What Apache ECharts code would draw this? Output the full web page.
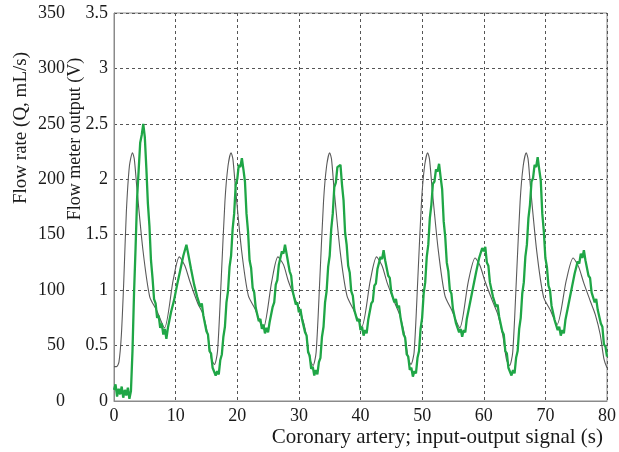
<!DOCTYPE html>
<html><head><meta charset="utf-8">
<script src="https://cdn.jsdelivr.net/npm/echarts@6/dist/echarts.min.js"></script>
<style>html,body{margin:0;padding:0;background:#fff}#c{width:619px;height:452px}</style>
</head><body><div id="c"></div>
<script>
// X axis ticks (s)
var xTicks = [0,10,20,30,40,50,60,70,80];
// Flow rate axis ticks (mL/s) and output axis ticks (V)
var flowTicks = [0,50,100,150,200,250,300,350];
var voltTicks = [0,0.5,1,1.5,2,2.5,3,3.5];
var xTitle = 'Coronary artery; input-output signal (s)';
var flowTitle = 'Flow rate (Q, mL/s)';
var voltTitle = 'Flow meter output (V)';

// Gray: input flow rate, [time s, Q mL/s]
var flowT = [0,0.4,0.8,1.2,1.6,2.0,2.5,3.0,
 3.3,3.7,4.7,5.8,6.9,8.2,9.6,10.6,11.5,12.3,13.6,14.4,15.2,15.8,16.3,16.8,17.4,18.0,18.5,19.0,
 19.3,19.7,20.7,21.8,22.9,24.2,25.6,26.6,27.5,28.3,29.6,30.4,31.2,31.8,32.3,32.8,33.4,34.0,34.5,35.0,
 35.3,35.7,36.7,37.8,38.9,40.2,41.6,42.6,43.5,44.3,45.6,46.4,47.2,47.8,48.2,48.7,49.3,49.9,50.4,50.9,
 51.2,51.6,52.6,53.7,54.8,56.1,57.5,58.6,59.4,60.2,61.5,62.3,63.1,63.7,64.2,64.7,65.3,65.9,66.4,66.9,
 67.2,67.6,68.6,69.7,70.8,71.9,73.4,74.5,75.4,76.2,77.3,78.1,78.9,79.5,80];
var flowQ = [31,31,35,60,110,170,212,224,
 218,193,136,94,82,66,109,130,122,108,88,79,60,38,33,45,110,180,212,224,
 218,193,136,95,83,65,108,130,123,108,89,78,60,37,32,44,110,180,212,224,
 218,192,135,95,82,67,109,130,122,107,88,77,58,37,33,44,110,180,212,224,
 218,193,137,95,82,66,108,129,122,108,89,78,59,37,32,44,110,180,212,224,
 218,192,135,94,82,69,109,129,121,107,90,78,60,38,30];

// Green: flow meter output (V), sampled every 0.25 s from t = 0
var voltStep = 0.25;
var voltV = [
 0.10,0.15,0.04,0.11, 0.06,0.13,0.03,0.10, 0.05,0.12,0.02,0.09,
 0.45,0.97,1.38,1.83, 2.08,2.33,2.40,2.50, 2.38,2.10,1.78,1.58,
 1.27,1.11,0.92,0.88, 0.75,0.77,0.66,0.70, 0.60,0.65,0.56,0.66,
 0.67,0.80,0.79,0.91, 0.92,1.05,1.05,1.18, 1.19,1.31,1.30,1.41,
 1.34,1.33,1.19,1.18, 1.05,1.05,0.94,0.95, 0.85,0.88,0.77,0.77,
 0.63,0.60,0.45,0.43, 0.30,0.31,0.23,0.27, 0.24,0.37,0.42,0.58,
 0.67,0.89,0.99,1.21, 1.31,1.55,1.69,1.95, 2.00,2.13,2.11,2.19,
 2.09,1.98,1.69,1.53, 1.27,1.20,1.02,0.98, 0.84,0.83,0.72,0.74,
 0.65,0.69,0.61,0.66, 0.62,0.71,0.71,0.85, 0.89,1.05,1.09,1.23,
 1.24,1.35,1.33,1.41, 1.33,1.33,1.17,1.13, 0.99,0.98,0.87,0.89,
 0.80,0.83,0.74,0.75, 0.62,0.59,0.44,0.41, 0.29,0.31,0.23,0.28,
 0.24,0.35,0.39,0.58, 0.67,0.89,0.99,1.21, 1.31,1.55,1.69,1.93,
 1.97,2.11,2.10,2.13, 1.95,1.81,1.52,1.41, 1.22,1.16,0.99,0.95,
 0.82,0.82,0.72,0.74, 0.64,0.67,0.59,0.64, 0.61,0.73,0.74,0.88,
 0.90,1.04,1.06,1.19, 1.19,1.30,1.28,1.36, 1.27,1.27,1.13,1.11,
 0.98,0.99,0.89,0.92, 0.84,0.86,0.75,0.74, 0.60,0.57,0.42,0.40,
 0.28,0.30,0.22,0.27, 0.25,0.39,0.45,0.65, 0.75,0.97,1.07,1.30,
 1.41,1.65,1.77,1.96, 1.98,2.09,2.07,2.14, 2.02,1.91,1.62,1.48,
 1.25,1.17,1.00,0.97, 0.83,0.82,0.70,0.71, 0.62,0.65,0.58,0.64,
 0.62,0.74,0.75,0.88, 0.89,1.02,1.03,1.16, 1.17,1.29,1.28,1.38,
 1.35,1.39,1.25,1.22, 1.07,1.06,0.94,0.95, 0.85,0.87,0.76,0.76,
 0.63,0.60,0.45,0.43, 0.30,0.31,0.23,0.28, 0.25,0.39,0.45,0.65,
 0.75,0.97,1.07,1.30, 1.41,1.65,1.77,1.98, 2.01,2.13,2.11,2.20,
 2.09,1.99,1.69,1.53, 1.29,1.21,1.04,1.00, 0.86,0.85,0.73,0.74,
 0.64,0.67,0.59,0.64, 0.61,0.73,0.74,0.87, 0.88,1.01,1.02,1.15,
 1.15,1.26,1.24,1.33, 1.29,1.36,1.27,1.27, 1.13,1.11,0.98,0.99,
 0.89,0.92,0.82,0.83, 0.70,0.67,0.51,0.49,
 0.40];

var flowData = flowT.map(function(t,i){return [t, flowQ[i]];});
var voltData = voltV.map(function(v,i){return [i*voltStep, v];});

var FONT = '"Liberation Serif", "DejaVu Serif", serif';
var chart = echarts.init(document.getElementById('c'), null, {renderer:'canvas'});
chart.setOption({
  animation:false,
  backgroundColor:'#fff',
  grid:{left:114, right:9, top:13, bottom:51, show:true, borderColor:'#8a8a8a', borderWidth:1, backgroundColor:'transparent'},
  xAxis:{type:'value', min:xTicks[0], max:xTicks[xTicks.length-1], interval:10,
    axisLine:{show:true, lineStyle:{color:'#8a8a8a'}}, axisTick:{show:false},
    axisLabel:{fontFamily:FONT, fontSize:18, color:'#1a1a1a', margin:6},
    splitLine:{show:true, lineStyle:{color:'#555', type:[3,3], width:1}}},
  yAxis:[
    {type:'value', position:'left', offset:43, min:flowTicks[0], max:flowTicks[flowTicks.length-1], interval:50,
     axisLine:{show:false}, axisTick:{show:false}, splitLine:{show:false},
     axisLabel:{fontFamily:FONT, fontSize:18, color:'#1a1a1a', margin:6}},
    {type:'value', position:'left', offset:0, min:voltTicks[0], max:voltTicks[voltTicks.length-1], interval:0.5,
     axisLine:{show:true, lineStyle:{color:'#8a8a8a'}}, axisTick:{show:false},
     axisLabel:{fontFamily:FONT, fontSize:18, color:'#1a1a1a', margin:6},
     splitLine:{show:true, lineStyle:{color:'#555', type:[3,3], width:1}}}
  ],
  graphic:[
    {type:'text', x:603, y:437, style:{text:xTitle, font:'21px '+FONT, fill:'#1a1a1a', align:'right', verticalAlign:'middle'}},
    {type:'text', x:21, y:128, rotation:Math.PI/2, style:{text:flowTitle, font:'19px '+FONT, fill:'#1a1a1a', align:'center', verticalAlign:'middle'}},
    {type:'text', x:75, y:139, rotation:Math.PI/2, style:{text:voltTitle, font:'18px '+FONT, fill:'#1a1a1a', align:'center', verticalAlign:'middle'}}
  ],
  series:[
    {type:'line', yAxisIndex:0, data:flowData, showSymbol:false, smooth:0.25,
     lineStyle:{color:'#5a5a5a', width:1.1}, z:2},
    {type:'line', yAxisIndex:1, data:voltData, showSymbol:false,
     lineStyle:{color:'#1fa646', width:2.3}, z:3}
  ]
});
</script></body></html>
